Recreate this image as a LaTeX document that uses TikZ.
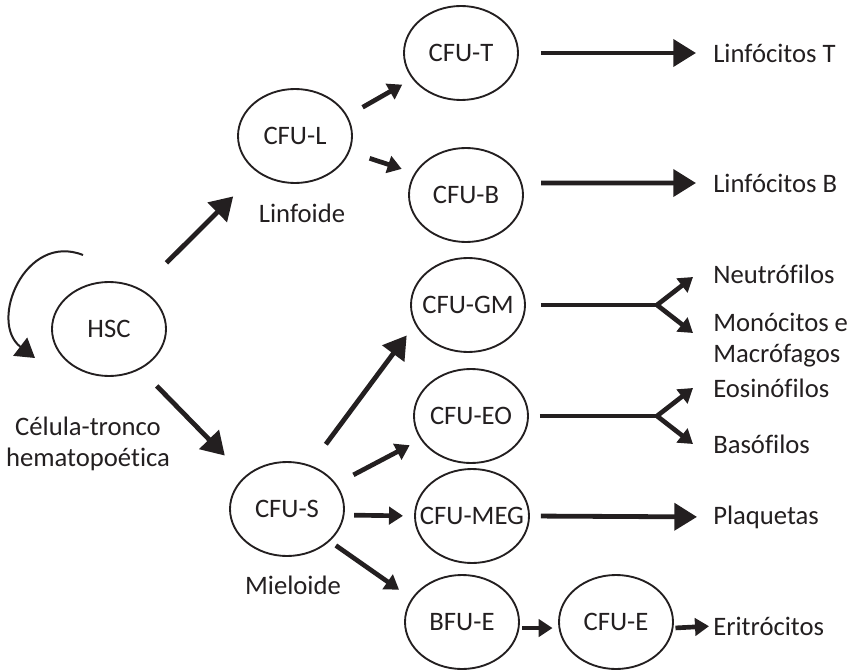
\documentclass[tikz,border=0pt]{standalone}
\usepackage{fontspec}
\setmainfont[Ligatures=NoCommon]{Carlito}
\usetikzlibrary{shapes.geometric, arrows.meta}
\definecolor{ink}{HTML}{231F20}

\begin{document}
\begin{tikzpicture}[x=0.75pt,y=0.75pt,yscale=-1,xscale=1,
  font=\fontsize{20}{23.5}\selectfont, color=ink,
  cell/.style={ellipse, draw, line width=1.4pt, minimum width=85.5pt, minimum height=70.5pt, inner xsep=-10pt, inner ysep=0pt},
  lbl/.style={inner sep=0pt, anchor=west, align=left},
  caption/.style={inner sep=0pt, align=center},
  bigarr/.style={line width=3.6pt, -{Triangle[length=17pt,width=20pt]}},
  smallarr/.style={line width=3.5pt, -{Triangle[length=10.5pt,width=13pt]}},
  forkarr/.style={line width=3.5pt, {Triangle[length=10.5pt,width=13pt]}-{Triangle[length=10.5pt,width=13pt]}},
  loopyarr/.style={line width=1.5pt, -{Triangle[length=14pt,width=17pt]}}]
\useasboundingbox (0,0) rectangle (848,670);

% Cells
\node[cell] (hsc) at (109,329) {HSC};
\node[cell] (cful) at (295,136) {CFU-L};
\node[cell] (cfut) at (461,53) {CFU-T};
\node[cell] (cfub) at (466,195) {CFU-B};
\node[cell] (cfugm) at (468,305) {CFU-GM};
\node[cell] (cfueo) at (471,416) {CFU-EO};
\node[cell] (cfus) at (287,509) {CFU-S};
\node[cell] (cfumeg) at (472,516) {CFU-MEG};
\node[cell] (bfue) at (462,622) {BFU-E};
\node[cell] (cfue) at (616,622) {CFU-E};

% Text Node
\node[caption] (celula) at (88,444) {Célula-tronco\\hematopoética};
\node[caption] (linfoide) at (302,213) {Linfoide};
\node[caption] (mieloide) at (293,585) {Mieloide};
\node[lbl] (linft) at (713,53) {Linfócitos T};
\node[lbl] (linfb) at (713,183) {Linfócitos B};
\node[lbl] (neutro) at (713,274) {Neutrófilos};
\node[lbl] (monoc) at (713,340) {Monócitos e\\Macrófagos};
\node[lbl] (eosino) at (713,388) {Eosinófilos};
\node[lbl] (baso) at (713,444) {Basófilos};
\node[lbl] (plaq) at (713,517) {Plaquetas};
\node[lbl] (eritro) at (713,626) {Eritrócitos};

% Fork points
\coordinate (gmsplit) at (657,305);
\coordinate (gmup) at (693,277);
\coordinate (gmdown) at (693,333);
\coordinate (eosplit) at (657,416);
\coordinate (eoup) at (693,388);
\coordinate (eodown) at (693,444);

% Self renewal
\draw[loopyarr] (hsc) ++(-26,-74) .. controls +(-58,-23) and +(-47,-36) .. ++(-48,103);

% Lymphoid line
\draw[bigarr, shorten <=27.5pt, shorten >=25.5pt] (hsc.52) -- (cful.224);
\draw[smallarr, shorten <=13pt, shorten >=8.7pt] (cful.21) -- (cfut.208);
\draw[smallarr, shorten <=15.7pt, shorten >=10.1pt] (cful.-16) -- (cfub.157);
\draw[bigarr, shorten <=16.5pt, shorten >=12.75pt] (cfut.east) -- (linft.west);
\draw[bigarr, shorten <=14.3pt, shorten >=12.75pt] (cfub.12) -- (linfb.west);

% Myeloid line
\draw[bigarr, shorten <=17.5pt, shorten >=21.5pt] (hsc.-52) -- (cfus.142);
\draw[bigarr, shorten <=19.5pt, shorten >=10.4pt] (cfus.62) -- (cfugm.200);
\draw[smallarr, shorten <=14.5pt, shorten >=9.2pt] (cfus.27) -- (cfueo.205);
\draw[smallarr, shorten <=7.2pt, shorten >=8.3pt] (cfus.-6) -- (cfumeg.180);
\draw[smallarr, shorten <=5.5pt, shorten >=11.4pt] (cfus.-37) -- (bfue.155);

% Granulocytes
\draw[line width=3.5pt, shorten <=11.25pt] (cfugm.east) -- (gmsplit);
\draw[forkarr] (gmup) -- (gmsplit) -- (gmdown);
\draw[line width=3.5pt, shorten <=8.25pt] (cfueo.east) -- (eosplit);
\draw[forkarr] (eoup) -- (eosplit) -- (eodown);
\draw[bigarr, shorten <=8.25pt, shorten >=12pt] (cfumeg.east) -- (plaq.west);

% Erythrocytes
\draw[smallarr, shorten <=2.25pt, shorten >=4.5pt] (bfue.-6) -- (cfue.186);
\draw[smallarr, shorten <=1.5pt, shorten >=3pt] (cfue.-6) -- (eritro.west);

\end{tikzpicture}
\end{document}
